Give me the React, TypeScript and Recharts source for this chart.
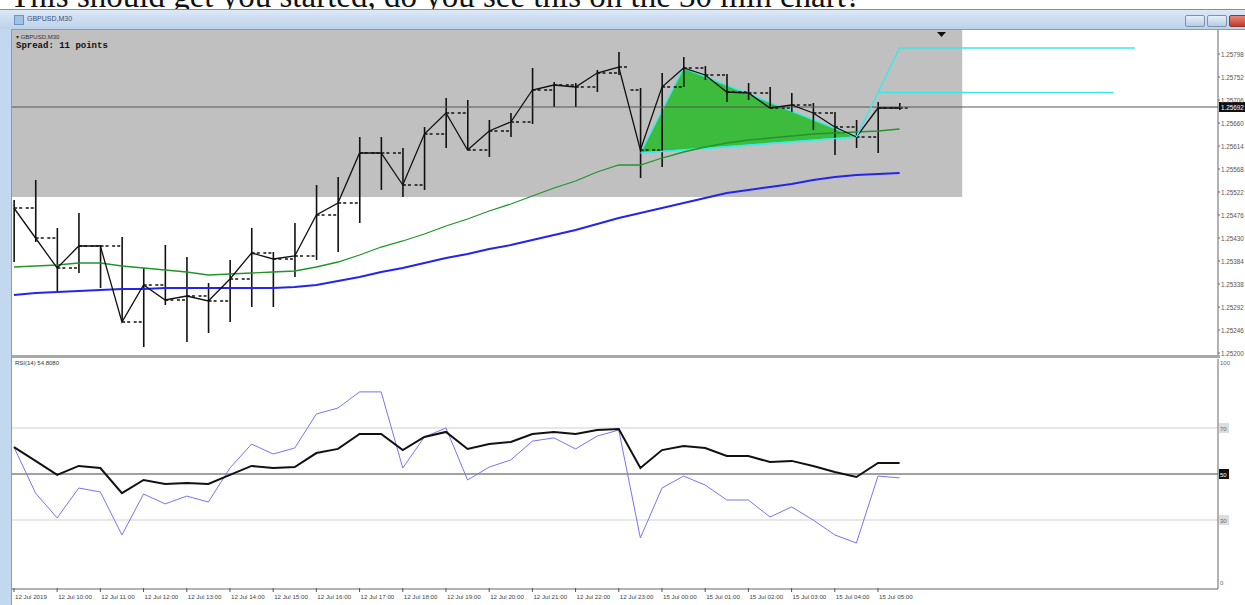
import React from 'react';
import { ComposedChart, Line, Bar, Area, XAxis, YAxis, ReferenceLine, ReferenceArea } from 'recharts';

// ---------- DATA ----------
const times = [
  '12 Jul 09:00', '12 Jul 09:30', '12 Jul 10:00', '12 Jul 10:30', '12 Jul 11:00', '12 Jul 11:30',
  '12 Jul 12:00', '12 Jul 12:30', '12 Jul 13:00', '12 Jul 13:30', '12 Jul 14:00', '12 Jul 14:30',
  '12 Jul 15:00', '12 Jul 15:30', '12 Jul 16:00', '12 Jul 16:30', '12 Jul 17:00', '12 Jul 17:30',
  '12 Jul 18:00', '12 Jul 18:30', '12 Jul 19:00', '12 Jul 19:30', '12 Jul 20:00', '12 Jul 20:30',
  '12 Jul 21:00', '12 Jul 21:30', '12 Jul 22:00', '12 Jul 22:30', '12 Jul 23:00', '12 Jul 23:30',
  '15 Jul 00:00', '15 Jul 00:30', '15 Jul 01:00', '15 Jul 01:30', '15 Jul 02:00', '15 Jul 02:30',
  '15 Jul 03:00', '15 Jul 03:30', '15 Jul 04:00', '15 Jul 04:30', '15 Jul 05:00', '15 Jul 05:30',
];
const openP = [1.25496, 1.2549, 1.2543, 1.2537, 1.25414, 1.25414, 1.25262, 1.25336, 1.25306, 1.25314, 1.25304, 1.25348, 1.254, 1.25388, 1.25394, 1.25476, 1.255, 1.256, 1.256, 1.25536, 1.25638, 1.2568, 1.25606, 1.25644, 1.25662, 1.25726, 1.25736, 1.25732, 1.2576, 1.25726, 1.25606, 1.25732, 1.2577, 1.25756, 1.25722, 1.2572, 1.2569, 1.25696, 1.2568, 1.25652, 1.25632, 1.2569];
const highP = [1.25506, 1.25546, 1.2545, 1.2548, 1.25416, 1.25432, 1.2537, 1.25416, 1.25392, 1.2534, 1.25386, 1.2545, 1.25402, 1.2546, 1.25536, 1.25552, 1.25632, 1.25632, 1.2561, 1.25652, 1.2571, 1.25706, 1.25666, 1.2568, 1.2577, 1.25742, 1.2574, 1.25766, 1.25802, 1.2573, 1.2576, 1.25792, 1.25774, 1.25758, 1.2574, 1.25732, 1.2572, 1.257, 1.25682, 1.25666, 1.25702, 1.257];
const lowP = [1.25382, 1.25422, 1.2532, 1.2536, 1.2533, 1.25262, 1.25212, 1.25296, 1.25222, 1.2524, 1.25262, 1.25292, 1.25292, 1.25352, 1.25386, 1.25402, 1.2546, 1.25526, 1.25512, 1.25526, 1.2561, 1.25606, 1.25592, 1.25632, 1.25658, 1.25692, 1.25692, 1.25722, 1.25756, 1.2555, 1.25572, 1.25732, 1.25746, 1.25702, 1.25706, 1.2569, 1.25682, 1.25646, 1.25596, 1.2561, 1.256, 1.25686];
const closeP = [1.2549, 1.2543, 1.2537, 1.25414, 1.25414, 1.25262, 1.25336, 1.25306, 1.25314, 1.25304, 1.25348, 1.254, 1.25388, 1.25394, 1.25476, 1.255, 1.256, 1.256, 1.25536, 1.25638, 1.2568, 1.25606, 1.25644, 1.25662, 1.25726, 1.25736, 1.25732, 1.2576, 1.25772, 1.25606, 1.25732, 1.2577, 1.25756, 1.25722, 1.2572, 1.2569, 1.25696, 1.2568, 1.25652, 1.25632, 1.2569, 1.2569];
const maGreen = [1.25372, 1.25374, 1.25376, 1.2538, 1.2538, 1.25374, 1.2537, 1.25366, 1.25362, 1.25356, 1.25358, 1.2536, 1.25362, 1.25364, 1.25372, 1.25382, 1.25396, 1.25412, 1.25424, 1.25438, 1.25454, 1.25468, 1.25484, 1.25498, 1.25514, 1.2553, 1.25544, 1.25562, 1.25576, 1.25576, 1.2559, 1.25602, 1.25612, 1.2562, 1.25626, 1.2563, 1.25634, 1.25638, 1.2564, 1.25642, 1.25644, 1.25648];
const maBlue = [1.25316, 1.2532, 1.25322, 1.25324, 1.25326, 1.25328, 1.25328, 1.2533, 1.2533, 1.2533, 1.2533, 1.2533, 1.2533, 1.25332, 1.25336, 1.25344, 1.25352, 1.25362, 1.2537, 1.2538, 1.2539, 1.25398, 1.25408, 1.25416, 1.25426, 1.25436, 1.25446, 1.25458, 1.2547, 1.2548, 1.2549, 1.255, 1.2551, 1.2552, 1.25526, 1.25532, 1.25538, 1.25546, 1.25552, 1.25556, 1.25558, 1.2556];
const rsiSlow = [61.7, 55.7, 49.6, 53.5, 52.6, 41.7, 47.4, 45.7, 46.1, 45.7, 49.6, 53.5, 52.6, 53.0, 59.1, 60.9, 67.4, 67.4, 60.4, 66.1, 68.3, 60.9, 63.0, 63.9, 67.4, 68.3, 67.4, 69.1, 69.6, 52.6, 60.4, 62.2, 61.3, 57.8, 57.8, 55.2, 55.7, 53.5, 50.9, 48.7, 54.8, 54.8];
const rsiFast = [61.7, 41.7, 30.9, 43.9, 42.2, 23.5, 41.3, 37.0, 40.4, 37.8, 52.6, 63.0, 58.7, 61.3, 76.1, 78.7, 85.7, 85.7, 52.6, 66.1, 70.0, 47.4, 53.0, 56.1, 64.3, 65.7, 60.9, 66.5, 69.1, 22.2, 43.9, 49.1, 45.2, 38.7, 38.7, 31.3, 35.7, 30.0, 23.5, 20.0, 49.1, 48.3];

const priceTicks = [1.252, 1.25246, 1.25292, 1.25338, 1.25384, 1.2543, 1.25476, 1.25522, 1.25568, 1.25614, 1.2566, 1.25706, 1.25752, 1.25798];
const bidPrice = 1.25692;
const rsiTicks = [0, 30, 50, 70, 100];
const rsiLevels = [30, 50, 70];
const timeTickIdx = [0, 2, 4, 6, 8, 10, 12, 14, 16, 18, 20, 22, 24, 26, 28, 30, 32, 34, 36, 38, 40];
const timeTickLabels = [
  '12 Jul 2019', '12 Jul 10:00', '12 Jul 11:00', '12 Jul 12:00', '12 Jul 13:00', '12 Jul 14:00',
  '12 Jul 15:00', '12 Jul 16:00', '12 Jul 17:00', '12 Jul 18:00', '12 Jul 19:00', '12 Jul 20:00',
  '12 Jul 21:00', '12 Jul 22:00', '12 Jul 23:00', '15 Jul 00:00', '15 Jul 01:00', '15 Jul 02:00',
  '15 Jul 03:00', '15 Jul 04:00', '15 Jul 05:00',
];

// drawn objects (bar index, price)
const triX = [29, 31, 39];
const triLow = [1.256, 1.25606, 1.25632];
const triHigh = [1.256, 1.2577, 1.25632];
const fibUpperX = [39, 41, 51.9];
const fibUpperY = [1.25632, 1.2581, 1.2581];
const fibLowerX = [40, 50.9];
const fibLowerY = [1.25721, 1.25721];
const boxX = [-0.09, 43.9];
const boxY = [1.25512, 1.25846];

const xDomain = [-0.09, 55.74];
const priceDomain = [1.25194, 1.25846];

// ---------- BUILD ----------
const bars = times.map((t, i) => ({
  i, t, open: openP[i], high: highP[i], low: lowP[i], close: closeP[i],
  range: [lowP[i], highP[i]], maG: maGreen[i], maB: maBlue[i],
  rsiS: rsiSlow[i], rsiF: rsiFast[i],
}));
const triData = triX.map((x, k) => ({ i: x, range: [triLow[k], triHigh[k]] }));
const triLowData = triX.map((x, k) => ({ i: x, v: triLow[k] }));
const fibU = fibUpperX.map((x, k) => ({ i: x, v: fibUpperY[k] }));
const fibL = fibLowerX.map((x, k) => ({ i: x, v: fibLowerY[k] }));

const tinyFont = '"Liberation Sans", Arial, sans-serif';

const OhlcShape = (props: any) => {
  const { x, y, width, height, payload } = props;
  if (!payload || x == null) return null;
  const { open, high, low, close } = payload;
  const cx = x + width / 2;
  const span = high - low;
  const k = span > 0 ? height / span : 0;
  const oy = y + (high - open) * k;
  const cy = y + (high - close) * k;
  return (
    <g>
      <line x1={cx} x2={cx} y1={y} y2={y + height} stroke="#111" strokeWidth={1.6} />
      <line x1={cx - 10} x2={cx} y1={oy} y2={oy} stroke="#111" strokeWidth={1.3} strokeDasharray="3 2" />
      <line x1={cx} x2={cx + 10} y1={cy} y2={cy} stroke="#111" strokeWidth={1.3} strokeDasharray="3 2" />
    </g>
  );
};

const PriceTick = (props: any) => {
  const { x, y, payload } = props;
  return (
    <g>
      <line x1={x} x2={x + 2} y1={y} y2={y} stroke="#666" />
      <text x={x + 3} y={y + 2.5} fontSize={6.3} fill="#555" fontFamily={tinyFont}>
        {Number(payload.value).toFixed(5)}
      </text>
    </g>
  );
};

const RsiTick = (props: any) => {
  const { x, y, payload } = props;
  const v = payload.value;
  const isMid = v === 50;
  const isLvl = v === 30 || v === 70;
  const ty = v === 100 ? y + 6 : v === 0 ? y - 4 : y + 2.5;
  return (
    <g>
      {isMid && <rect x={x + 1} y={y - 5} width={10} height={10} fill="#111" />}
      {isLvl && <rect x={x + 1} y={y - 5} width={10} height={10} fill="#ddd" />}
      <text x={x + 2} y={ty} fontSize={6} fill={isMid ? '#fff' : '#666'} fontFamily={tinyFont}>
        {v}
      </text>
    </g>
  );
};

const TimeTick = (props: any) => {
  const { x, y, index } = props;
  return (
    <g>
      <line x1={x} x2={x} y1={y - 3} y2={y + 1} stroke="#555" />
      <text x={x + 1} y={y + 8} fontSize={6.2} fill="#444" fontFamily={tinyFont}>
        {timeTickLabels[index] ?? ''}
      </text>
    </g>
  );
};

const BidLabel = (props: any) => {
  const vb = props.viewBox || {};
  const rx = (vb.x ?? 0) + (vb.width ?? 0);
  const ry = vb.y ?? 0;
  return (
    <g>
      <rect x={rx + 1} y={ry - 5} width={26} height={10} fill="#111" />
      <text x={rx + 3} y={ry + 2.5} fontSize={6.3} fill="#fff" fontFamily={tinyFont}>
        {bidPrice.toFixed(5)}
      </text>
    </g>
  );
};

export default function App() {
  return (
    <div style={{ position: 'absolute', left: 0, top: 0, width: 1245, height: 605, overflow: 'hidden', background: '#fff' }}>
      {/* forum text cut at top */}
      <svg width={1245} height={12} style={{ position: 'absolute', left: 0, top: 0 }}>
        <text x={10} y={7} fontSize={33} fontFamily='"Liberation Serif", "DejaVu Serif", serif' fill="#111">
          This should get you started, do you see this on the 30 min chart?
        </text>
      </svg>
      {/* window frame */}
      <div style={{ position: 'absolute', left: 0, top: 9, width: 1245, height: 596, background: '#c3d7ee', borderTop: '1px solid #7f8ea0' }} />
      <div style={{ position: 'absolute', left: 0, top: 10, width: 1245, height: 19, background: 'linear-gradient(#dce8f6, #bcd2eb)' }} />
      <div style={{ position: 'absolute', left: 14, top: 15, width: 8, height: 8, background: '#9ec3e6', border: '1px solid #6f93bd' }} />
      <div style={{ position: 'absolute', left: 27, top: 15, fontSize: 7, fontFamily: tinyFont, color: '#35507a' }}>GBPUSD,M30</div>
      <div style={{ position: 'absolute', left: 1185, top: 15, width: 18, height: 10, background: 'linear-gradient(#e8f0fa,#b7cbe3)', border: '1px solid #7c92ad', borderRadius: 2 }} />
      <div style={{ position: 'absolute', left: 1207, top: 15, width: 18, height: 10, background: 'linear-gradient(#e8f0fa,#b7cbe3)', border: '1px solid #7c92ad', borderRadius: 2 }} />
      <div style={{ position: 'absolute', left: 1229, top: 15, width: 18, height: 10, background: 'linear-gradient(#e68a7a,#c4382a)', border: '1px solid #8a3a30', borderRadius: 2 }} />
      {/* chart client area */}
      <div style={{ position: 'absolute', left: 11, top: 29, width: 1234, height: 576, background: '#fff', borderLeft: '1px solid #8c9bb0', borderTop: '1px solid #8c9bb0' }} />

      {/* main price chart */}
      <div style={{ position: 'absolute', left: 12, top: 30 }}>
        <ComposedChart width={1233} height={326} data={bars} margin={{ top: 0, right: 0, bottom: 0, left: 0 }}>
          <ReferenceArea x1={boxX[0]} x2={boxX[1]} y1={boxY[0]} y2={boxY[1]} fill="#c0c0c0" fillOpacity={1} stroke="none" ifOverflow="hidden" />
          <XAxis dataKey="i" type="number" domain={xDomain} allowDataOverflow hide />
          <YAxis orientation="right" width={27} domain={priceDomain} allowDataOverflow ticks={priceTicks} interval={0}
            tick={<PriceTick />} tickLine={false} tickSize={0} tickMargin={0} axisLine={{ stroke: '#666' }} />
          <ReferenceLine y={bidPrice} stroke="#555" strokeWidth={1} label={<BidLabel />} />
          <Area data={triData} dataKey="range" type="linear" fill="#3dbb3d" fillOpacity={1} stroke="#3ee8e8" strokeWidth={1.5} isAnimationActive={false} />
          <Line data={triLowData} dataKey="v" type="linear" stroke="#3ee8e8" strokeWidth={1.5} dot={false} isAnimationActive={false} />
          <Line dataKey="maB" type="linear" stroke="#2424ee" strokeWidth={2} dot={false} isAnimationActive={false} />
          <Line dataKey="maG" type="linear" stroke="#21952b" strokeWidth={1.3} dot={false} isAnimationActive={false} />
          <Bar dataKey="range" barSize={10} shape={<OhlcShape />} isAnimationActive={false} />
          <Line dataKey="close" type="linear" stroke="#111" strokeWidth={1.3} dot={false} isAnimationActive={false} />
          <Line data={fibU} dataKey="v" type="linear" stroke="#3ee8e8" strokeWidth={1.5} dot={false} isAnimationActive={false} />
          <Line data={fibL} dataKey="v" type="linear" stroke="#3ee8e8" strokeWidth={1.5} dot={false} isAnimationActive={false} />
        </ComposedChart>
      </div>
      <div style={{ position: 'absolute', left: 16, top: 33, fontSize: 6, fontFamily: tinyFont, color: '#333' }}>▾ GBPUSD,M30</div>
      <div style={{ position: 'absolute', left: 16, top: 41, fontSize: 9, fontWeight: 'bold', fontFamily: '"Liberation Mono", "DejaVu Sans Mono", monospace', color: '#111' }}>Spread: 11 points</div>
      <svg width={10} height={8} style={{ position: 'absolute', left: 937, top: 31 }}>
        <polygon points="0,1 9,1 4.5,6" fill="#111" />
      </svg>
      {/* separator */}
      <div style={{ position: 'absolute', left: 12, top: 355, width: 1208, height: 3, background: '#a8a8a8' }} />

      {/* RSI sub window */}
      <div style={{ position: 'absolute', left: 12, top: 359 }}>
        <ComposedChart width={1233} height={242} data={bars} margin={{ top: 0, right: 0, bottom: 0, left: 0 }}>
          <XAxis dataKey="i" type="number" domain={xDomain} allowDataOverflow ticks={timeTickIdx} interval={0}
            height={12} tick={<TimeTick />} tickLine={false} tickSize={0} axisLine={{ stroke: '#666' }} />
          <YAxis orientation="right" width={27} domain={[0, 100]} ticks={rsiTicks} interval={0}
            tick={<RsiTick />} tickLine={false} tickSize={0} tickMargin={0} axisLine={{ stroke: '#666' }} />
          {rsiLevels.map((l) => (
            <ReferenceLine key={l} y={l} stroke={l === 50 ? '#444' : '#cfcfcf'} strokeWidth={l === 50 ? 1.2 : 1} />
          ))}
          <Line dataKey="rsiF" type="linear" stroke="#7676f2" strokeWidth={1} dot={false} isAnimationActive={false} />
          <Line dataKey="rsiS" type="linear" stroke="#111" strokeWidth={2} dot={false} isAnimationActive={false} />
        </ComposedChart>
      </div>
      <div style={{ position: 'absolute', left: 15, top: 360, fontSize: 6, fontFamily: tinyFont, color: '#333' }}>RSI(14) 54.8080</div>
    </div>
  );
}
